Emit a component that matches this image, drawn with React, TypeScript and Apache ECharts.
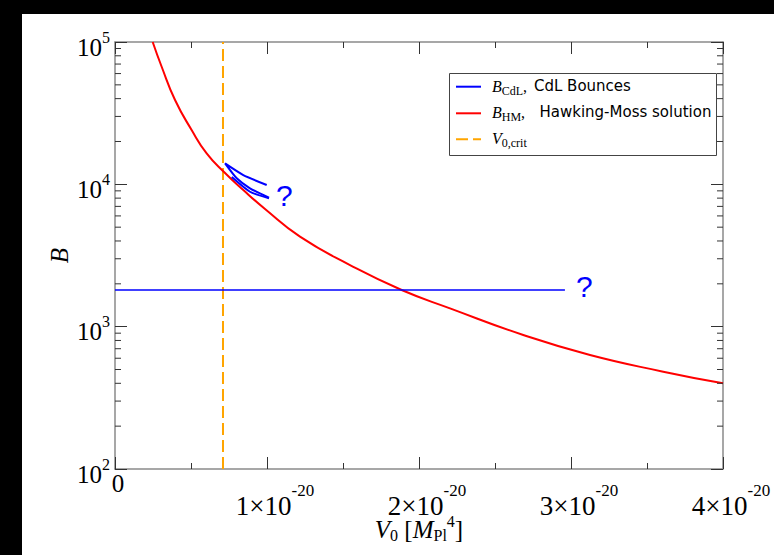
import React, { useEffect, useRef } from 'react';
import * as echarts from 'echarts';

// Hawking-Moss solution B_HM(V0), V0 in units of 1e-20 M_Pl^4
const hmV = [0.248, 0.307, 0.395, 0.504, 0.603, 0.719, 0.844, 0.987, 1.217, 1.546, 1.886, 2.204, 2.686, 3.125, 3.607, 4.0];
const hmB = [100000, 67000, 39100, 24100, 16500, 12150, 9120, 6710, 4290, 2710, 1810, 1345, 874, 632, 483, 400];

// CdL bounces near V0,crit (swallow-tail)
const cdlUpperV = [0.998, 0.844, 0.724, 0.801, 0.888, 1.013];
const cdlUpperB = [9890, 11620, 14030, 11020, 9380, 8050];
const cdlLowerV = [0.768, 0.888, 1.013];
const cdlLowerB = [11250, 8870, 7980];

// CdL bounces, flat branch
const flatV = [0, 2.96];
const flatB = [1810, 1810];

// critical V0
const vCrit = 0.7105;

const xMin = 0;
const xMax = 4;
const yMin = 100;
const yMax = 100000;
const yMinorTicks = [200, 300, 400, 500, 600, 700, 800, 900, 2000, 3000, 4000, 5000, 6000, 7000, 8000, 9000, 20000, 30000, 40000, 50000, 60000, 70000, 80000, 90000];

const SERIF = 'Liberation Serif';
const SANS = 'Liberation Sans';
const AXIS_COLOR = '#8a8a8a';
const TICK_COLOR = '#333';

const zip = (a: number[], b: number[]) => a.map((v, i) => [v, b[i]]);

export default function App() {
  const ref = useRef<HTMLDivElement>(null);
  useEffect(() => {
    document.body.style.margin = '0';
    const chart = echarts.init(ref.current!, undefined, { renderer: 'svg' });
    const supRich = {
      a: { fontFamily: SERIF, fontSize: 25, color: '#000', padding: [10, 0, 0, 0] },
      p: { fontFamily: SERIF, fontSize: 16, color: '#000', padding: [0, 0, 10, 0] },
    };
    const xRich = {
      z: { fontFamily: SERIF, fontSize: 25, color: '#000', padding: [0, 0, 0, 6] },
      a: { fontFamily: SERIF, fontSize: 27, color: '#000', padding: [21, 0, 0, 16] },
      p: { fontFamily: SERIF, fontSize: 17, color: '#000', padding: [0, 0, 10, 0] },
    };
    const commonX = {
      type: 'value',
      min: xMin,
      max: xMax,
      interval: 1,
      splitLine: { show: false },
      axisLine: { show: true, onZero: false, lineStyle: { color: AXIS_COLOR, width: 1.5 } },
      axisTick: { show: true, inside: true, length: 12, lineStyle: { color: TICK_COLOR } },
      minorTick: { show: true, splitNumber: 2, length: 6, lineStyle: { color: TICK_COLOR } },
      minorSplitLine: { show: false },
    };
    const commonY = {
      type: 'log',
      logBase: 10,
      min: yMin,
      max: yMax,
      splitLine: { show: false },
      axisLine: { show: true, onZero: false, lineStyle: { color: AXIS_COLOR, width: 1.5 } },
      axisTick: { show: true, inside: true, length: 12, lineStyle: { color: TICK_COLOR } },
    };
    const tickLine = (x1: number, y1: number, x2: number, y2: number) => ({
      type: 'line',
      shape: { x1, y1, x2, y2 },
      style: { stroke: TICK_COLOR, lineWidth: 1 },
    });
    chart.setOption({
      animation: false,
      backgroundColor: '#fff',
      grid: { left: 115, top: 42, width: 608, height: 427, outerBoundsMode: 'none', containLabel: false },
      xAxis: [
        {
          ...commonX,
          position: 'bottom',
          name: '{v|V}{s|0}{t| [}{m|M}{s|Pl}{u|4}{t|]}',
          nameLocation: 'middle',
          nameGap: 44,
          nameMoveOverlap: false,
          nameTextStyle: {
            rich: {
              v: { fontFamily: SERIF, fontStyle: 'italic', fontSize: 25, color: '#000' },
              m: { fontFamily: SERIF, fontStyle: 'italic', fontSize: 25, color: '#000' },
              t: { fontFamily: SERIF, fontSize: 25, color: '#000' },
              s: { fontFamily: SERIF, fontSize: 16, color: '#000', padding: [12, 0, 0, 0] },
              u: { fontFamily: SERIF, fontSize: 16, color: '#000', padding: [0, 0, 16, 0] },
            },
          },
          axisLabel: {
            show: true,
            margin: 2,
            showMinLabel: true,
            showMaxLabel: true,
            hideOverlap: false,
            formatter: (v: number) => (v === 0 ? '{z|0}' : `{a|${v}×10}{p|-20}`),
            rich: xRich,
          },
        },
        { ...commonX, position: 'top', axisLabel: { show: false } },
      ],
      yAxis: [
        {
          ...commonY,
          position: 'left',
          name: 'B',
          nameLocation: 'middle',
          nameGap: 43,
          nameMoveOverlap: false,
          nameTextStyle: { fontFamily: SERIF, fontStyle: 'italic', fontSize: 25, color: '#000' },
          axisLabel: {
            show: true,
            margin: 5,
            formatter: (v: number) => `{a|10}{p|${Math.round(Math.log10(v))}}`,
            rich: supRich,
          },
        },
        { ...commonY, position: 'right', axisLabel: { show: false } },
      ],
      graphic: [
        { type: 'rect', shape: { x: 0, y: 0, width: 774, height: 14 }, style: { fill: '#000' }, z: 100 },
        { type: 'rect', shape: { x: 0, y: 0, width: 22, height: 555 }, style: { fill: '#000' }, z: 100 },
        {
          type: 'group',
          z: 50,
          children: [
            { type: 'rect', shape: { x: 449.5, y: 73.5, width: 267, height: 82 }, style: { fill: '#fff', stroke: '#444', lineWidth: 1 } },
            { type: 'line', shape: { x1: 456, y1: 86.7, x2: 481, y2: 86.7 }, style: { stroke: '#0000ff', lineWidth: 2 } },
            { type: 'line', shape: { x1: 456, y1: 113.3, x2: 481, y2: 113.3 }, style: { stroke: '#ff0000', lineWidth: 2 } },
            { type: 'line', shape: { x1: 456, y1: 139.3, x2: 481, y2: 139.3 }, style: { stroke: '#ffa500', lineWidth: 2, lineDash: [12, 5] } },
            {
              type: 'text', x: 492, y: 86, style: {
                text: '{b|B}{s|CdL}{c|,}', verticalAlign: 'middle',
                rich: {
                  b: { fontFamily: SERIF, fontStyle: 'italic', fontSize: 16, fill: '#000' },
                  s: { fontFamily: SERIF, fontSize: 12, fill: '#000', padding: [10, 0, 0, 0] },
                  c: { fontFamily: SERIF, fontSize: 16, fill: '#000' },
                },
              },
            },
            { type: 'text', x: 534, y: 86, style: { text: 'CdL Bounces', fontFamily: 'DejaVu Sans', fontSize: 15, fill: '#000', verticalAlign: 'middle' } },
            {
              type: 'text', x: 492, y: 112, style: {
                text: '{b|B}{s|HM}{c|,}', verticalAlign: 'middle',
                rich: {
                  b: { fontFamily: SERIF, fontStyle: 'italic', fontSize: 16, fill: '#000' },
                  s: { fontFamily: SERIF, fontSize: 12, fill: '#000', padding: [10, 0, 0, 0] },
                  c: { fontFamily: SERIF, fontSize: 16, fill: '#000' },
                },
              },
            },
            { type: 'text', x: 539.5, y: 112, style: { text: 'Hawking-Moss solution', fontFamily: 'DejaVu Sans', fontSize: 15, fill: '#000', verticalAlign: 'middle' } },
            {
              type: 'text', x: 492, y: 138, style: {
                text: '{b|V}{s|0,crit}', verticalAlign: 'middle',
                rich: {
                  b: { fontFamily: SERIF, fontStyle: 'italic', fontSize: 16, fill: '#000' },
                  s: { fontFamily: SERIF, fontSize: 12, fill: '#000', padding: [10, 0, 0, 0] },
                },
              },
            },
          ],
        },
      ],
      series: [
        {
          name: 'V0crit',
          type: 'line',
          data: [[vCrit, yMin], [vCrit, yMax]],
          showSymbol: false,
          symbol: 'none',
          lineStyle: { color: '#ffa500', width: 2, type: [12, 5] },
          z: 2,
        },
        {
          name: 'HM',
          type: 'line',
          data: zip(hmV, hmB),
          showSymbol: false,
          symbol: 'none',
          smooth: 0.5,
          lineStyle: { color: '#ff0000', width: 2 },
          z: 3,
        },
        {
          name: 'CdL flat',
          type: 'line',
          data: zip(flatV, flatB),
          showSymbol: false,
          symbol: 'none',
          lineStyle: { color: '#0000ff', width: 1.5 },
          endLabel: { show: true, formatter: '?', color: '#0000ff', fontFamily: SANS, fontSize: 30, distance: 11, offset: [0, -3] },
          z: 4,
        },
        {
          name: 'CdL upper',
          type: 'line',
          data: zip(cdlUpperV, cdlUpperB),
          showSymbol: false,
          symbol: 'none',
          smooth: 0.2,
          lineStyle: { color: '#0000ff', width: 2 },
          z: 4,
        },
        {
          name: 'CdL lower',
          type: 'line',
          data: zip(cdlLowerV, cdlLowerB),
          showSymbol: false,
          symbol: 'none',
          smooth: 0.2,
          lineStyle: { color: '#0000ff', width: 2 },
          endLabel: { show: true, formatter: '?', color: '#0000ff', fontFamily: SANS, fontSize: 30, distance: 7, offset: [0, -3] },
          z: 4,
        },
        {
          name: 'minor y ticks',
          type: 'custom',
          coordinateSystem: 'cartesian2d',
          xAxisIndex: 0,
          yAxisIndex: 0,
          silent: true,
          clip: false,
          data: yMinorTicks.map((v) => [xMin, v]),
          renderItem: (_params: any, api: any) => {
            const v = api.value(1);
            const pL = api.coord([xMin, v]);
            const pR = api.coord([xMax, v]);
            return {
              type: 'group',
              children: [
                tickLine(pL[0], pL[1], pL[0] + 6, pL[1]),
                tickLine(pR[0] - 6, pR[1], pR[0], pR[1]),
              ],
            };
          },
          z: 5,
        },
      ],
    });
    return () => chart.dispose();
  }, []);
  return <div ref={ref} style={{ width: 774, height: 555, position: 'absolute', left: 0, top: 0 }} />;
}
